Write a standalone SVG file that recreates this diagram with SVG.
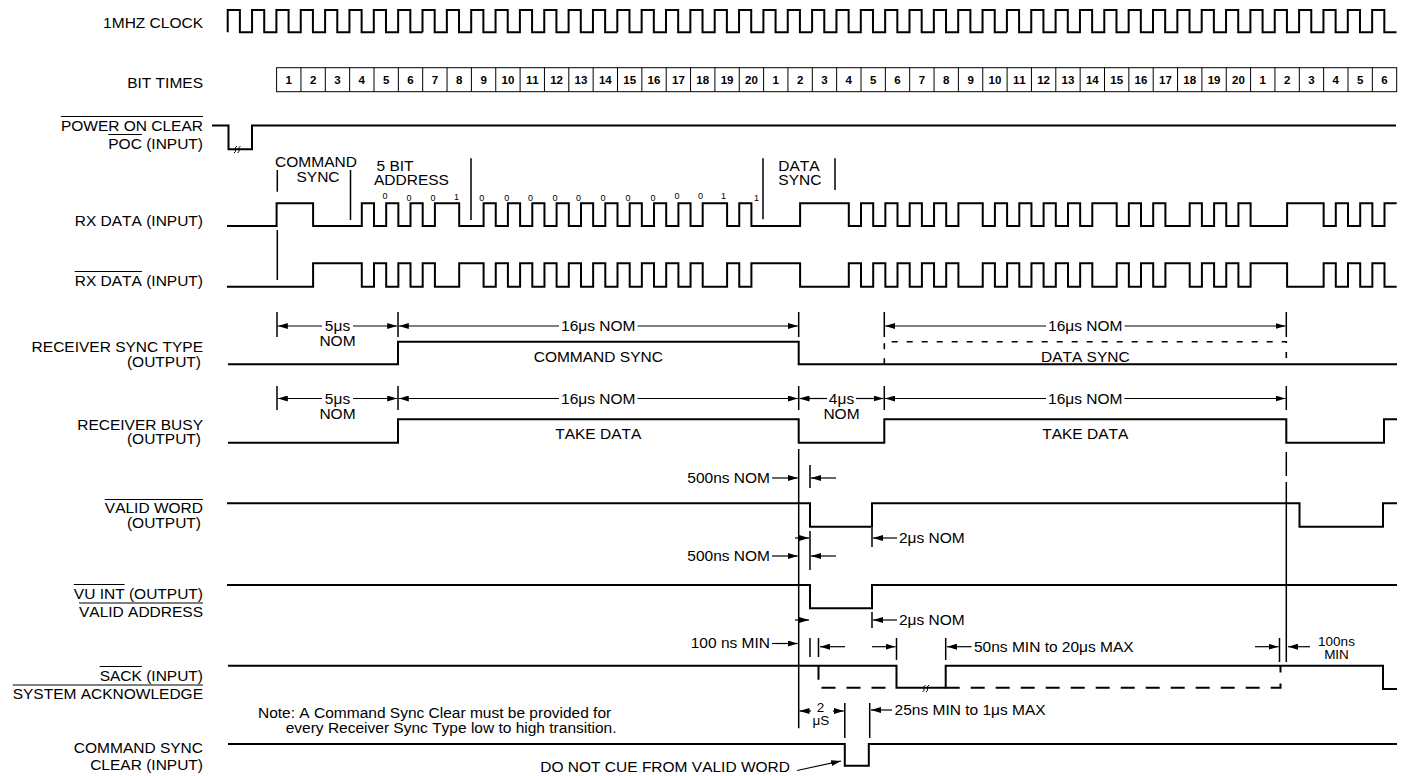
<svg xmlns="http://www.w3.org/2000/svg" xmlns:xlink="http://www.w3.org/1999/xlink" width="1409" height="776" viewBox="0 0 1409 776">
<defs>
<style>
.w{fill:none;stroke:#000;stroke-width:2}
.bx{fill:none;stroke:#000;stroke-width:1}
.tk{stroke:#000;stroke-width:1.5;fill:none}
.ol{stroke:#000;stroke-width:1.2;fill:none}
.dm{stroke:#000;stroke-width:1.2;fill:none;marker-end:url(#ah)}
.ld{fill:none;stroke:#000;stroke-width:2;stroke-dasharray:14 11}
.sd{fill:none;stroke:#000;stroke-width:1.6;stroke-dasharray:6 9}
.sq{fill:none;stroke:#000;stroke-width:1}
text{font-family:"Liberation Sans",Arial,Helvetica,sans-serif;font-size:15.5px;fill:#000;font-kerning:none}
.lb{text-anchor:end}
.mid{text-anchor:middle}
.bn{font-size:11.5px;font-weight:bold;text-anchor:middle}
.dg{font-size:9px;text-anchor:middle}
.sm{font-size:13.5px;text-anchor:middle}
</style>
<marker id="ah" viewBox="0 0 10 6" refX="10" refY="3" markerWidth="10" markerHeight="6" markerUnits="userSpaceOnUse" orient="auto"><path d="M0,0L10,3L0,6z" fill="#000"/></marker>
<path id="clk8" class="w" d="M0,32.3v-22.3h12.175v22.3h12.175v-22.3h12.175v22.3h12.175v-22.3h12.175v22.3h12.175v-22.3h12.175v22.3h12.175v-22.3h12.175v22.3h12.175v-22.3h12.175v22.3h12.175v-22.3h12.175v22.3h12.175v-22.3h12.175v22.3h12.175"/>
<path id="div9" class="bx" d="M0,67.7v24m24.35,-24v24m24.35,-24v24m24.35,-24v24m24.35,-24v24m24.35,-24v24m24.35,-24v24m24.35,-24v24m24.35,-24v24"/>
</defs>
<rect width="1409" height="776" fill="#fff"/>

<g id="clock">
<text class="lb" x="203" y="28.3">1MHZ CLOCK</text>
<use xlink:href="#clk8" href="#clk8" x="227.7"/>
<use xlink:href="#clk8" href="#clk8" x="422.5"/>
<use xlink:href="#clk8" href="#clk8" x="617.3"/>
<use xlink:href="#clk8" href="#clk8" x="812.1"/>
<use xlink:href="#clk8" href="#clk8" x="1006.9"/>
<use xlink:href="#clk8" href="#clk8" x="1201.7"/>
</g>

<g id="bit-times">
<text class="lb" x="203" y="88.3">BIT TIMES</text>
<rect class="bx" x="276.6" y="67.7" width="1120.1" height="24"/>
<use xlink:href="#div9" href="#div9" x="300.95"/>
<use xlink:href="#div9" href="#div9" x="520.1"/>
<use xlink:href="#div9" href="#div9" x="739.25"/>
<use xlink:href="#div9" href="#div9" x="958.4"/>
<use xlink:href="#div9" href="#div9" x="1177.55"/>
<text class="bn" x="288.8" y="84">1</text><text class="bn" x="313.1" y="84">2</text><text class="bn" x="337.5" y="84">3</text><text class="bn" x="361.8" y="84">4</text><text class="bn" x="386.2" y="84">5</text><text class="bn" x="410.5" y="84">6</text><text class="bn" x="434.9" y="84">7</text><text class="bn" x="459.2" y="84">8</text><text class="bn" x="483.6" y="84">9</text><text class="bn" x="507.9" y="84">10</text><text class="bn" x="532.3" y="84">11</text><text class="bn" x="556.6" y="84">12</text><text class="bn" x="581" y="84">13</text><text class="bn" x="605.3" y="84">14</text><text class="bn" x="629.7" y="84">15</text><text class="bn" x="654" y="84">16</text><text class="bn" x="678.4" y="84">17</text><text class="bn" x="702.7" y="84">18</text><text class="bn" x="727.1" y="84">19</text><text class="bn" x="751.4" y="84">20</text>
<text class="bn" x="775.8" y="84">1</text><text class="bn" x="800.1" y="84">2</text><text class="bn" x="824.5" y="84">3</text><text class="bn" x="848.8" y="84">4</text><text class="bn" x="873.2" y="84">5</text><text class="bn" x="897.5" y="84">6</text><text class="bn" x="921.9" y="84">7</text><text class="bn" x="946.2" y="84">8</text><text class="bn" x="970.6" y="84">9</text><text class="bn" x="994.9" y="84">10</text><text class="bn" x="1019.3" y="84">11</text><text class="bn" x="1043.6" y="84">12</text><text class="bn" x="1068" y="84">13</text><text class="bn" x="1092.3" y="84">14</text><text class="bn" x="1116.7" y="84">15</text><text class="bn" x="1141" y="84">16</text><text class="bn" x="1165.4" y="84">17</text><text class="bn" x="1189.7" y="84">18</text><text class="bn" x="1214.1" y="84">19</text><text class="bn" x="1238.4" y="84">20</text>
<text class="bn" x="1262.8" y="84">1</text><text class="bn" x="1287.1" y="84">2</text><text class="bn" x="1311.5" y="84">3</text><text class="bn" x="1335.8" y="84">4</text><text class="bn" x="1360.2" y="84">5</text><text class="bn" x="1384.5" y="84">6</text>
</g>

<g id="poc">
<text class="lb" x="203" y="131">POWER ON CLEAR</text>
<text class="lb" x="203" y="148.5">POC (INPUT)</text>
<path class="ol" d="M60.9,116.5H203M108.3,134.5H141.9"/>
<path class="w" d="M212,125.5H228.5V149.3H252V125.5H1396"/>
<path class="sq" d="M234,153q2,-1 1.5,-3.5q-0.5,-2.5 1.5,-3.5M237.5,153q2,-1 1.5,-3.5q-0.5,-2.5 1.5,-3.5"/>
</g>

<g id="rx-data">
<text class="lb" x="203" y="226">RX DATA (INPUT)</text>
<path class="w" d="M227,226H276.6V203.3H313.1V226H361.8V203.3H374V226H386.2V203.3H398.35V226H410.5V203.3H422.7V226H434.9V203.3H459.2V226H483.6V203.3H495.75V226H507.9V203.3H520.1V226H532.3V203.3H544.45V226H556.6V203.3H568.8V226H581V203.3H593.15V226H605.3V203.3H617.5V226H629.7V203.3H641.85V226H654V203.3H666.2V226H678.4V203.3H690.55V226H702.7V203.3H727.1V226H739.25V203.3H751.4V226H800.1V203.3H848.8V226H861V203.3H873.2V226H885.35V203.3H897.5V226H909.7V203.3H921.9V226H934.05V203.3H946.2V226H958.4V203.3H982.75V226H994.9V203.3H1007.1V226H1019.3V203.3H1031.45V226H1043.6V203.3H1055.8V226H1068V203.3H1080.15V226H1092.3V203.3H1116.7V226H1128.85V203.3H1141V226H1153.2V203.3H1165.4V226H1189.7V203.3H1201.9V226H1214.1V203.3H1226.25V226H1238.4V203.3H1250.6V226H1287.1V203.3H1323.65V226H1335.8V203.3H1348V226H1360.2V203.3H1372.35V226H1384.5V203.3H1396.7"/>
<path class="tk" d="M277.3,170V191.7M350.5,170V220M471,158.3V220M763,158.3V219.3M835,158.3V190M277.3,230V280"/>
<text class="mid" x="316" y="167">COMMAND</text>
<text class="mid" x="318" y="181.5">SYNC</text>
<text x="376.5" y="170.5">5 BIT</text>
<text x="374" y="185">ADDRESS</text>
<text x="778.3" y="170.5">DATA</text>
<text x="778.3" y="185">SYNC</text>
<text class="dg" x="385" y="199">0</text><text class="dg" x="409" y="200.5">0</text><text class="dg" x="433" y="200.5">0</text><text class="dg" x="456.5" y="200">1</text>
<text class="dg" x="481.7" y="200.5">0</text><text class="dg" x="506.7" y="200.5">0</text><text class="dg" x="530.5" y="200.5">0</text><text class="dg" x="555" y="200.5">0</text><text class="dg" x="578.5" y="200.5">0</text><text class="dg" x="603" y="200.5">0</text><text class="dg" x="628" y="200.5">0</text><text class="dg" x="653" y="200.5">0</text><text class="dg" x="677" y="199">0</text><text class="dg" x="700.5" y="199">0</text><text class="dg" x="723.5" y="199">1</text><text class="dg" x="756.5" y="201">1</text>
</g>

<g id="rx-data-n">
<text class="lb" x="203" y="286">RX DATA (INPUT)</text>
<path class="ol" d="M74.7,271.5H141.9"/>
<path class="w" d="M227,286.7H313.1V263.3H361.8V286.7H374V263.3H386.2V286.7H398.35V263.3H410.5V286.7H422.7V263.3H434.9V286.7H459.2V263.3H483.6V286.7H495.75V263.3H507.9V286.7H520.1V263.3H532.3V286.7H544.45V263.3H556.6V286.7H568.8V263.3H581V286.7H593.15V263.3H605.3V286.7H617.5V263.3H629.7V286.7H641.85V263.3H654V286.7H666.2V263.3H678.4V286.7H690.55V263.3H702.7V286.7H727.1V263.3H739.25V286.7H751.4V263.3H800.1V286.7H848.8V263.3H861V286.7H873.2V263.3H885.35V286.7H897.5V263.3H909.7V286.7H921.9V263.3H934.05V286.7H946.2V263.3H958.4V286.7H982.75V263.3H994.9V286.7H1007.1V263.3H1019.3V286.7H1031.45V263.3H1043.6V286.7H1055.8V263.3H1068V286.7H1080.15V263.3H1092.3V286.7H1116.7V263.3H1128.85V286.7H1141V263.3H1153.2V286.7H1165.4V263.3H1189.7V286.7H1201.9V263.3H1214.1V286.7H1226.25V263.3H1238.4V286.7H1250.6V263.3H1287.1V286.7H1323.65V263.3H1335.8V286.7H1348V263.3H1360.2V286.7H1372.35V263.3H1384.5V286.7H1396.7"/>
</g>

<g id="receiver-sync-type">
<text class="lb" x="203" y="352">RECEIVER SYNC TYPE</text>
<text class="lb" x="201" y="366.5">(OUTPUT)</text>
<path class="w" d="M228,364.3H398V341.7H798.7V364.3H1397"/>
<path class="sd" d="M884.3,364.3V341.7H1286.3V364.3"/>
<text class="mid" x="598.3" y="361.5">COMMAND SYNC</text>
<text class="mid" x="1085.3" y="361.5">DATA SYNC</text>
</g>

<g id="receiver-busy">
<text class="lb" x="203" y="429.5">RECEIVER BUSY</text>
<text class="lb" x="201" y="444">(OUTPUT)</text>
<path class="w" d="M228,442.7H398V419.3H798.7V442.7H884.3V419.3H1286.3V442.7H1384V419.3H1397"/>
<text class="mid" x="598.3" y="438.5">TAKE DATA</text>
<text class="mid" x="1085.3" y="438.5">TAKE DATA</text>
</g>

<g id="valid-word">
<text class="lb" x="203" y="513">VALID WORD</text>
<text class="lb" x="201" y="527.5">(OUTPUT)</text>
<path class="ol" d="M104.8,499.5H203"/>
<path class="w" d="M227,503.3H810V526.7H872V503.3H1299.5V526.7H1383V503.3H1397"/>
</g>

<g id="vu-int">
<text class="lb" x="203" y="598.5">VU INT (OUTPUT)</text>
<text class="lb" x="203" y="617">VALID ADDRESS</text>
<path class="ol" d="M73.8,584.5H124.6M79,603H203"/>
<path class="w" d="M227,585H810V608.3H872V585H1397"/>
</g>

<g id="sack">
<text class="lb" x="203" y="680.5">SACK (INPUT)</text>
<text class="lb" x="203" y="699">SYSTEM ACKNOWLEDGE</text>
<path class="ol" d="M99.7,666.5H141.9M12.7,685H203"/>
<path class="w" d="M228,665.7H896.5V687.7H945.7V665.7H1383V689H1397"/>
<path class="ld" d="M818.5,665.7V687.7H896.5M945.7,687.7H1280.5V665.7"/>
<path class="sq" d="M922.5,692q2,-1 1.5,-3.5q-0.5,-2.5 1.5,-3.5M926,692q2,-1 1.5,-3.5q-0.5,-2.5 1.5,-3.5"/>
</g>

<g id="command-sync-clear">
<text class="lb" x="203" y="753">COMMAND SYNC</text>
<text class="lb" x="203" y="769.5">CLEAR (INPUT)</text>
<path class="w" d="M228,744H844.8V765.7H868.8V744H1397"/>
<text x="258" y="718">Note: A Command Sync Clear must be provided for</text>
<text x="285.7" y="733">every Receiver Sync Type low to high transition.</text>
<text class="lb" x="790" y="772">DO NOT CUE FROM VALID WORD</text>
</g>

<g id="connectors">
<path class="tk" d="M277,312V337M398,312V337M798.7,312V337M884.3,312V337M1286.3,312V337"/>
<path class="tk" d="M277,386V410M398,386V410M798.7,386V410M884.3,386V410M1286.3,386V410"/>
<line class="dm" x1="322" y1="326" x2="277.8" y2="326"/>
<line class="dm" x1="353" y1="326" x2="397.2" y2="326"/>
<line class="dm" x1="559" y1="326" x2="398.8" y2="326"/>
<line class="dm" x1="637.5" y1="326" x2="797.9" y2="326"/>
<line class="dm" x1="1046" y1="326" x2="885.1" y2="326"/>
<line class="dm" x1="1124.5" y1="326" x2="1285.5" y2="326"/>
<text class="mid" x="337.5" y="331">5μs</text><text class="mid" x="337.5" y="346">NOM</text>
<text class="mid" x="598.3" y="331">16μs NOM</text>
<text class="mid" x="1085.3" y="331">16μs NOM</text>

<line class="dm" x1="322" y1="398.5" x2="277.8" y2="398.5"/>
<line class="dm" x1="353" y1="398.5" x2="397.2" y2="398.5"/>
<line class="dm" x1="559" y1="398.5" x2="398.8" y2="398.5"/>
<line class="dm" x1="637.5" y1="398.5" x2="797.9" y2="398.5"/>
<line class="dm" x1="827" y1="398.5" x2="799.5" y2="398.5"/>
<line class="dm" x1="856" y1="398.5" x2="883.5" y2="398.5"/>
<line class="dm" x1="1046" y1="398.5" x2="885.1" y2="398.5"/>
<line class="dm" x1="1124.5" y1="398.5" x2="1285.5" y2="398.5"/>
<text class="mid" x="337.5" y="403.5">5μs</text><text class="mid" x="337.5" y="418.5">NOM</text>
<text class="mid" x="598.3" y="403.5">16μs NOM</text>
<text class="mid" x="841.5" y="403.5">4μs</text><text class="mid" x="841.5" y="418.5">NOM</text>
<text class="mid" x="1085.3" y="403.5">16μs NOM</text>

<path class="tk" d="M798.7,449V728.3M1286.3,452V476M1286.3,482V662"/>
<path class="tk" d="M810,465V488M810,531V570M872,528V547M872,612V628M810,638V657M818.5,638V657M896.5,638V660M945.7,638V660M1279.5,638V662M844.8,703V738M869.7,703V738"/>

<text class="lb" x="770" y="483">500ns NOM</text>
<line class="dm" x1="772" y1="478" x2="797.7" y2="478"/>
<line class="dm" x1="836" y1="478" x2="811" y2="478"/>

<line class="dm" x1="795" y1="538" x2="809" y2="538"/>
<line class="dm" x1="897" y1="538" x2="873" y2="538"/>
<text x="899" y="543">2μs NOM</text>

<text class="lb" x="770" y="561">500ns NOM</text>
<line class="dm" x1="772" y1="556" x2="797.7" y2="556"/>
<line class="dm" x1="836" y1="556" x2="811" y2="556"/>

<line class="dm" x1="795" y1="620" x2="809" y2="620"/>
<line class="dm" x1="897" y1="620" x2="873" y2="620"/>
<text x="899" y="625">2μs NOM</text>

<text class="lb" x="770" y="648">100 ns MIN</text>
<line class="dm" x1="772" y1="643.5" x2="797.7" y2="643.5"/>
<line class="dm" x1="845" y1="646.7" x2="820" y2="646.7"/>
<line class="dm" x1="872" y1="646.7" x2="895.5" y2="646.7"/>
<line class="dm" x1="971.5" y1="646.7" x2="947" y2="646.7"/>
<text x="974" y="651.5">50ns MIN to 20μs MAX</text>
<line class="dm" x1="1255" y1="646.7" x2="1278.5" y2="646.7"/>
<line class="dm" x1="1310" y1="646.7" x2="1288" y2="646.7"/>
<text class="sm" x="1336.5" y="645.5">100ns</text>
<text class="sm" x="1336.5" y="658.5">MIN</text>

<line class="dm" x1="811" y1="711" x2="799.5" y2="711"/>
<line class="dm" x1="833" y1="711" x2="843.8" y2="711"/>
<text class="sm" x="820.5" y="711.5">2</text>
<text class="sm" x="821" y="724.5">μS</text>
<line class="dm" x1="892" y1="710" x2="871" y2="710"/>
<text x="894.6" y="715">25ns MIN to 1μs MAX</text>

<line class="dm" x1="797" y1="770.5" x2="841" y2="761"/>
</g>
</svg>
